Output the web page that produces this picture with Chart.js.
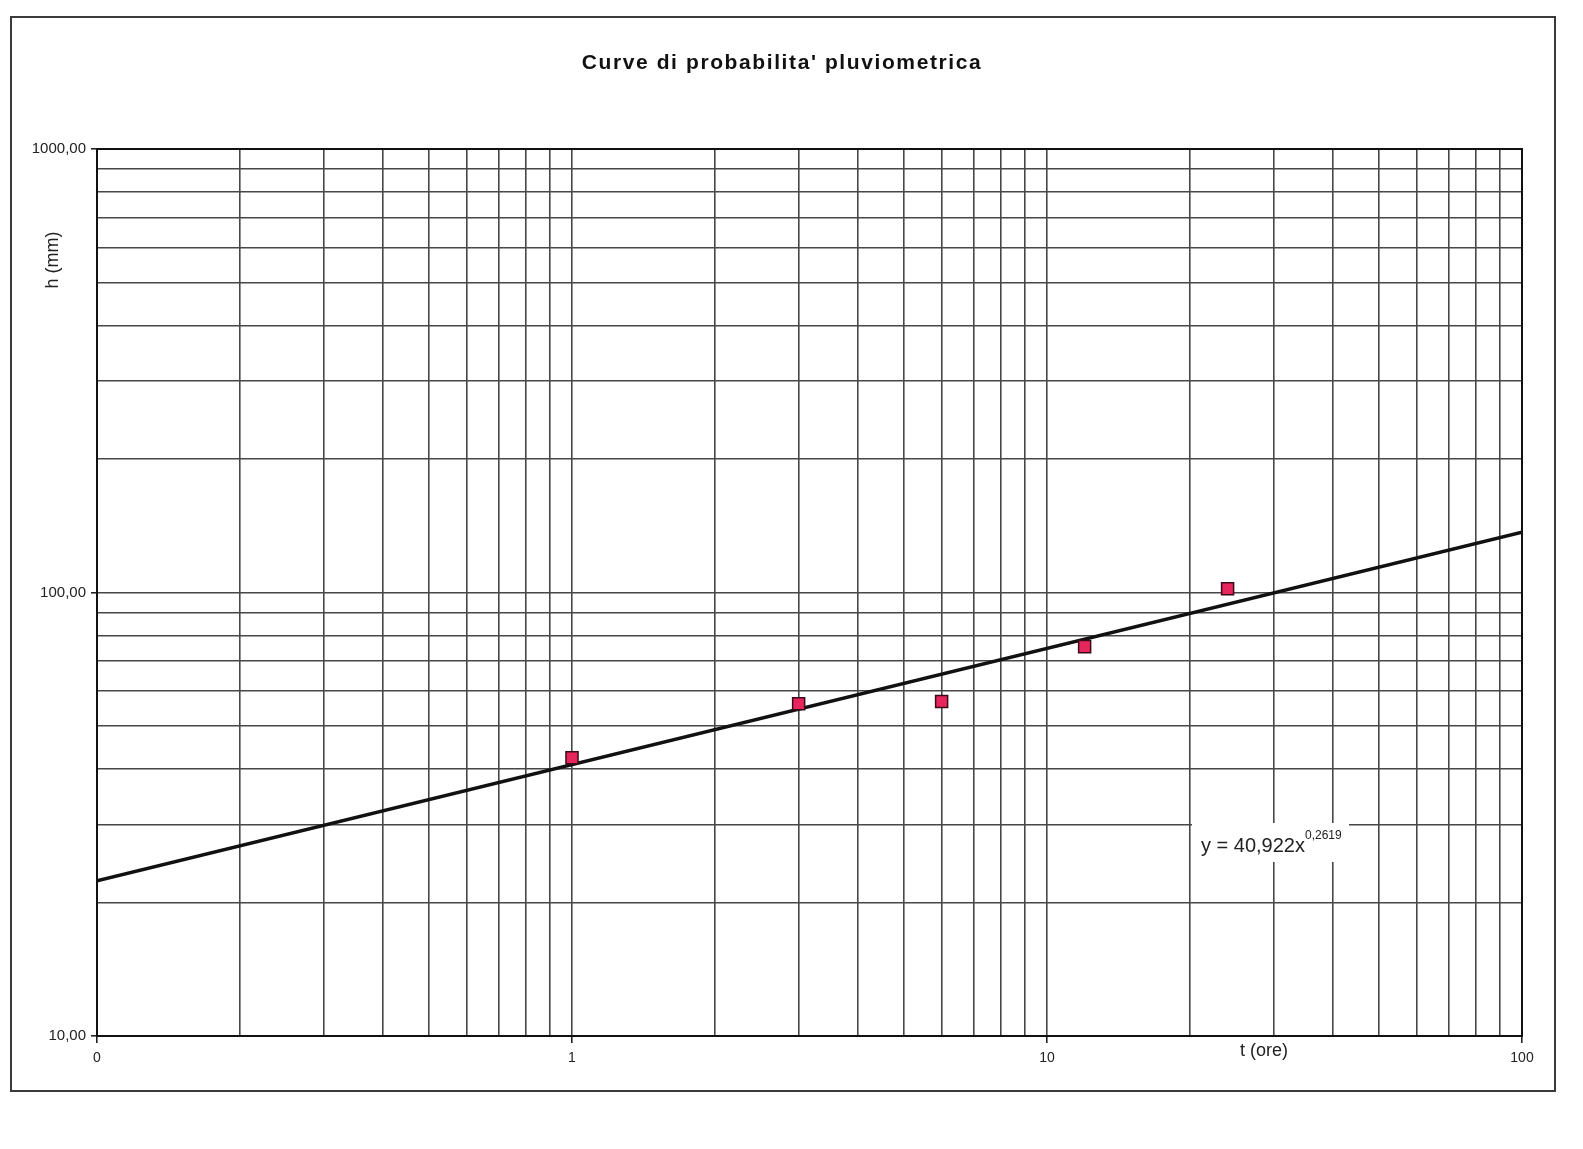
<!DOCTYPE html>
<html>
<head>
<meta charset="utf-8">
<title>Curve di probabilita' pluviometrica</title>
<script src="https://cdn.jsdelivr.net/npm/chart.js@4/dist/chart.umd.min.js"></script>
<style>
  html, body { margin: 0; padding: 0; background: #ffffff; }
  #wrap { width: 1583px; height: 1149px; position: relative; }
</style>
</head>
<body>
<div id="wrap"><canvas id="chart" width="1583" height="1149"></canvas></div>
<script>
// Durate di pioggia (ore) e altezze massime osservate (mm)
const durations = [1, 3, 6, 12, 24];
const rainDepths = [42.4, 56.1, 56.8, 75.5, 102.0];

// Curva di possibilita' pluviometrica h = a * t^n (interpolazione di potenza)
const coefA = 40.922;
const coefN = 0.2619;
const trendSpan = [0.1, 100];

// Griglia logaritmica e etichette degli assi
const xGrid = [0.1, 0.2, 0.3, 0.4, 0.5, 0.6, 0.7, 0.8, 0.9,
               1, 2, 3, 4, 5, 6, 7, 8, 9,
               10, 20, 30, 40, 50, 60, 70, 80, 90, 100];
const yGrid = [10, 20, 30, 40, 50, 60, 70, 80, 90,
               100, 200, 300, 400, 500, 600, 700, 800, 900, 1000];
const xLabelValues = [0.1, 1, 10, 100];
const xLabelTexts = ['0', '1', '10', '100'];
const yLabelValues = [10, 100, 1000];
const yLabelTexts = ['10,00', '100,00', '1000,00'];

const titleText = "Curve di probabilita' pluviometrica";
const yTitle = 'h (mm)';
const xTitle = 't (ore)';

const FONT = '"Liberation Sans", Arial, Helvetica, sans-serif';

function labelFor(values, texts, v) {
  for (let i = 0; i < values.length; i++) {
    if (Math.abs(values[i] - v) < 1e-9 * Math.max(1, values[i])) return texts[i];
  }
  return '';
}

const trendPoints = trendSpan.map(t => ({ x: t, y: coefA * Math.pow(t, coefN) }));
const obsPoints = durations.map((t, i) => ({ x: t, y: rainDepths[i] }));

// Cornice esterna, titoli ed equazione della curva
const decorations = {
  id: 'decorations',
  beforeDraw(chart) {
    const ctx = chart.ctx;
    ctx.save();
    ctx.fillStyle = '#ffffff';
    ctx.fillRect(0, 0, chart.width, chart.height);
    ctx.restore();
  },
  afterDraw(chart) {
    const ctx = chart.ctx;
    const area = chart.chartArea;
    ctx.save();

    // cornice del grafico
    ctx.strokeStyle = '#3a3a3a';
    ctx.lineWidth = 2;
    ctx.strokeRect(11, 17, 1544, 1074);

    // bordo dell'area del tracciato
    ctx.strokeStyle = '#111111';
    ctx.lineWidth = 2;
    ctx.strokeRect(area.left, area.top, area.right - area.left, area.bottom - area.top);

    // titolo
    ctx.fillStyle = '#111111';
    ctx.font = 'bold 21px ' + FONT;
    ctx.letterSpacing = '1.6px';
    ctx.textAlign = 'center';
    ctx.textBaseline = 'alphabetic';
    ctx.fillText(titleText, 782, 69);
    ctx.letterSpacing = '0px';

    // titolo asse y
    ctx.font = '18px ' + FONT;
    ctx.fillStyle = '#222222';
    ctx.save();
    ctx.translate(53, 260);
    ctx.rotate(-Math.PI / 2);
    ctx.textAlign = 'center';
    ctx.textBaseline = 'middle';
    ctx.fillText(yTitle, 0, 0);
    ctx.restore();

    // titolo asse x
    ctx.textAlign = 'center';
    ctx.textBaseline = 'middle';
    ctx.fillText(xTitle, 1264, 1051);

    // etichetta dell'equazione su sfondo bianco
    const main = 'y = ' + coefA.toFixed(3).replace('.', ',') + 'x';
    const sup = coefN.toFixed(4).replace('.', ',');
    ctx.fillStyle = '#ffffff';
    ctx.fillRect(1192, 823, 157, 39);
    ctx.fillStyle = '#222222';
    ctx.textAlign = 'left';
    ctx.textBaseline = 'alphabetic';
    ctx.font = '20px ' + FONT;
    ctx.fillText(main, 1201, 852);
    const w = ctx.measureText(main).width;
    ctx.font = '12px ' + FONT;
    ctx.fillText(sup, 1201 + w, 839);

    ctx.restore();
  }
};

new Chart(document.getElementById('chart'), {
  type: 'scatter',
  data: {
    datasets: [
      {
        label: 'h osservate',
        data: obsPoints,
        order: 0,
        pointStyle: 'rect',
        pointRadius: 8.5,
        pointHoverRadius: 8.5,
        backgroundColor: '#e8265e',
        borderColor: '#3a0a16',
        borderWidth: 1.5,
        showLine: false
      },
      {
        label: 'curva',
        data: trendPoints,
        order: 1,
        showLine: true,
        pointRadius: 0,
        borderColor: '#111111',
        borderWidth: 3.5,
        fill: false
      }
    ]
  },
  options: {
    responsive: false,
    animation: false,
    events: [],
    layout: { padding: { left: 0, top: 149, right: 61, bottom: 0 } },
    plugins: {
      legend: { display: false },
      tooltip: { enabled: false },
      title: { display: false }
    },
    scales: {
      x: {
        type: 'logarithmic',
        min: 0.1,
        max: 100,
        afterBuildTicks(scale) { scale.ticks = xGrid.map(v => ({ value: v })); },
        afterFit(scale) { scale.height = 113; },
        grid: {
          color: '#474747',
          lineWidth: 1.6,
          drawTicks: true,
          tickLength: 7,
          tickColor: ctx => (ctx.tick && labelFor(xLabelValues, xLabelTexts, ctx.tick.value) !== '') ? '#222222' : 'rgba(0,0,0,0)'
        },
        border: { color: '#111111', width: 2 },
        ticks: {
          autoSkip: false,
          maxRotation: 0,
          minRotation: 0,
          padding: 7,
          color: '#222222',
          font: { family: FONT, size: 14 },
          callback: v => labelFor(xLabelValues, xLabelTexts, v)
        }
      },
      y: {
        type: 'logarithmic',
        min: 10,
        max: 1000,
        afterBuildTicks(scale) { scale.ticks = yGrid.map(v => ({ value: v })); },
        afterFit(scale) { scale.width = 97; },
        grid: {
          color: '#474747',
          lineWidth: 1.6,
          drawTicks: true,
          tickLength: 6,
          tickColor: ctx => (ctx.tick && labelFor(yLabelValues, yLabelTexts, ctx.tick.value) !== '') ? '#222222' : 'rgba(0,0,0,0)'
        },
        border: { color: '#111111', width: 2 },
        ticks: {
          autoSkip: false,
          padding: 5,
          color: '#222222',
          font: { family: FONT, size: 15 },
          callback: v => labelFor(yLabelValues, yLabelTexts, v)
        }
      }
    }
  },
  plugins: [decorations]
});
</script>
</body>
</html>
